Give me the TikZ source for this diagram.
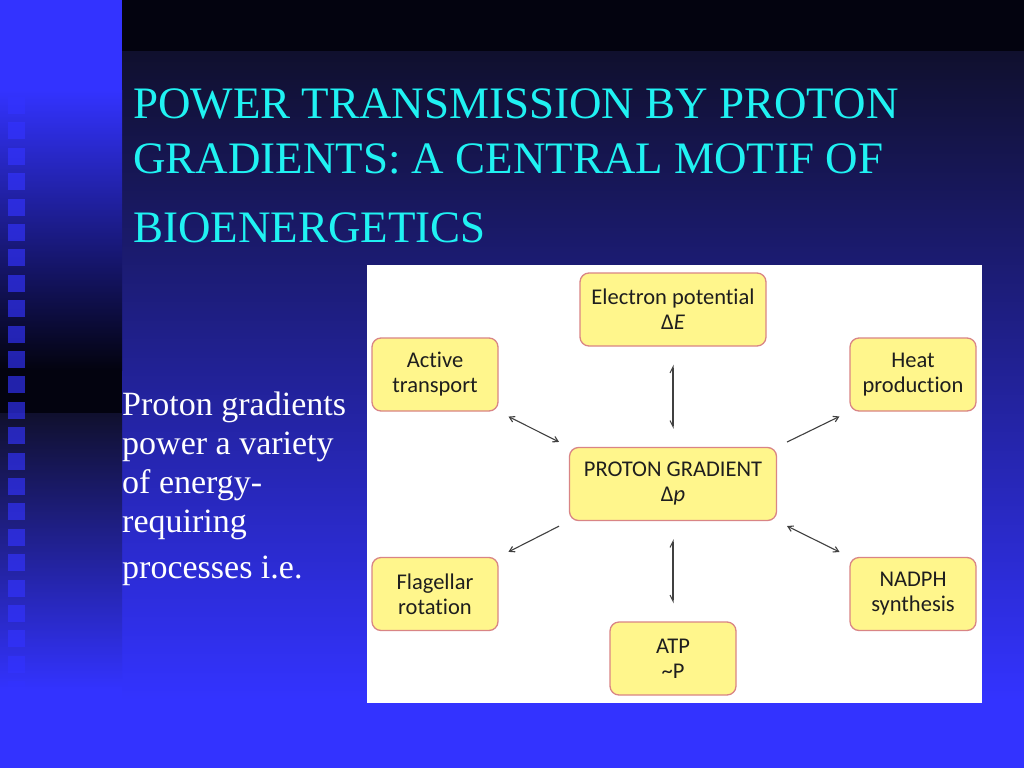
\documentclass[tikz,border=0pt]{standalone}
\usepackage{fontspec}
\setmainfont{Liberation Serif}
\newfontfamily\boxfont{Carlito}[Ligatures=NoCommon]
\usepackage{tikz}
\usetikzlibrary{positioning,arrows.meta}

\definecolor{slideblue}{HTML}{3333FF}
\definecolor{slidenavy}{HTML}{10102E}
\definecolor{slidedark}{HTML}{03030F}
\definecolor{titlecyan}{HTML}{20F2F2}
\definecolor{boxyellow}{HTML}{FFF68C}
\definecolor{boxrim}{HTML}{D98585}
\definecolor{inkgray}{HTML}{1E1E1E}

\tikzset{
  heading/.style={anchor=base west, inner sep=0pt, text=titlecyan, font=\fontsize{45}{54}\selectfont},
  bodyline/.style={anchor=base west, inner sep=0pt, text=white, font=\fontsize{34}{39}\selectfont},
  stage/.style={draw=boxrim, line width=1.3pt, fill=boxyellow, rounded corners=9pt,
    minimum width=126pt, minimum height=73pt, align=center, text=inkgray,
    font=\boxfont\fontsize{22.5}{25}\selectfont},
  link/.style={draw=inkgray!85, line width=1.1pt, shorten >=11pt, shorten <=11pt,
    >={Straight Barb[length=5pt,width=6pt]}},
  uplink/.style={link, shorten >=18pt, shorten <=18pt,
    {Straight Barb[harpoon,length=6pt,width=6pt]}-{Straight Barb[harpoon,swap,length=6pt,width=6pt]}}
}

\begin{document}
\begin{tikzpicture}[x=1pt,y=-1pt,node distance=174.5pt,on grid]
  \useasboundingbox (0,0) rectangle (1024,768);
  % slide background
  \fill[slidedark] (122,0) rectangle (1024,52);
  \shade[top color=slidenavy, bottom color=slideblue] (122,52) rectangle (1024,700);
  \fill[slideblue] (122,700) rectangle (1024,768);
  \fill[slideblue] (0,0) rectangle (122,90);
  \shade[top color=slideblue, bottom color=slidedark] (0,90) rectangle (122,370);
  \fill[slidedark] (0,370) rectangle (122,413);
  \shade[top color=slidenavy, bottom color=slideblue] (0,413) rectangle (122,690);
  \fill[slideblue] (0,690) rectangle (122,768);
  \foreach \k in {0,...,23}
    \fill[slideblue, fill opacity=0.65] (8,{97+25.4*\k}) rectangle ++(17,17);
  \fill[white] (367,265) rectangle (982,703);

  \node[heading] (title1) at (133,118) {POWER TRANSMISSION BY PROTON};
  \node[heading] (title2) at (133,173) {GRADIENTS: A CENTRAL MOTIF OF};
  \node[heading] (title3) at (133,242) {BIOENERGETICS};

  \node[bodyline] (body1) at (122,415) {Proton gradients};
  \node[bodyline] (body2) at (122,454) {power a variety};
  \node[bodyline] (body3) at (122,493) {of energy-};
  \node[bodyline] (body4) at (122,532) {requiring};
  \node[bodyline] (body5) at (122,578) {processes i.e.};

  \node[stage, minimum width=207pt] (proton) at (673,484) {PROTON GRADIENT\\Δ\textit{p}};
  \node[stage, minimum width=186pt] (elec) [above=of proton] {Electron potential\\Δ\textit{E}};
  \node[stage] (active) [above left=109.5pt and 238pt of proton] {Active\\transport};
  \node[stage] (heat) [above right=109.5pt and 240pt of proton] {Heat\\production};
  \node[stage] (flag) [below left=110pt and 238pt of proton] {Flagellar\\rotation};
  \node[stage] (nadph) [below right=110pt and 240pt of proton] {NADPH\\synthesis};
  \node[stage] (atp) [below=of proton] {ATP\\\textasciitilde P};

  \path[link]
    (elec.south) edge[uplink] (proton.north)
    (active.south east) edge[<->] (proton.north west)
    (proton.north east) edge[->] (heat.south west)
    (proton.south west) edge[->] (flag.north east)
    (proton.south east) edge[<->] (nadph.north west)
    (proton.south) edge[uplink] (atp.north);
\end{tikzpicture}
\end{document}
